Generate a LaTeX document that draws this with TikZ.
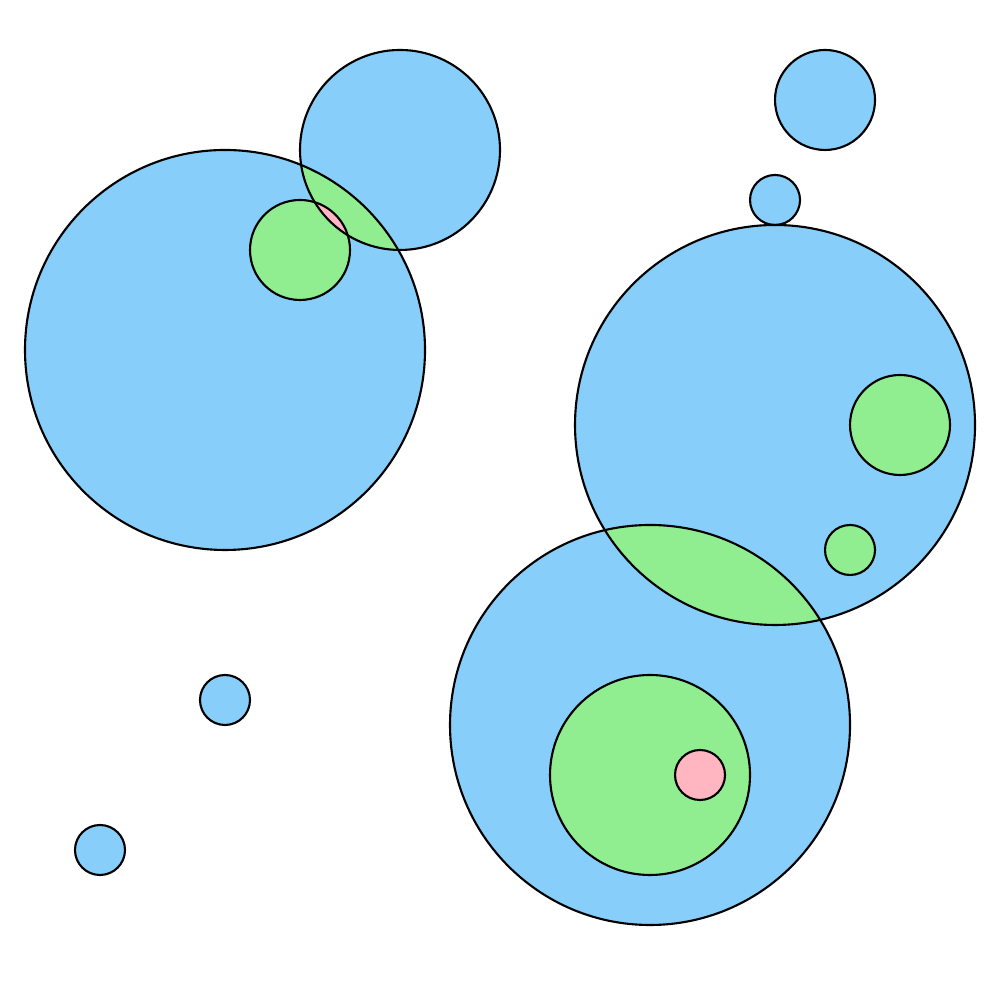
\documentclass[tikz,border=0pt]{standalone}
\usepackage{tikz}
\usetikzlibrary{calc}
\usepackage{xcolor}

\definecolor{skyfill}{HTML}{87CEFA}
\definecolor{greenfill}{HTML}{90EE90}
\definecolor{pinkfill}{HTML}{FFB6C1}

% one circle path: center, radius
\newcommand{\discA}[2]{(#1) circle (#2)}

\begin{document}
\begin{tikzpicture}[
  edge/.style={draw=black, line width=0.6pt},
]
  \useasboundingbox (0,0) rectangle (10,10);

  % centres
  \coordinate (bigleft)  at (2.25,6.5);
  \coordinate (topmid)   at (4,8.5);
  \coordinate (gleft)    at (3,7.5);
  \coordinate (topright) at (8.25,9);
  \coordinate (dotright) at (7.75,8);
  \coordinate (bigright) at (7.75,5.75);
  \coordinate (gright)   at (9,5.75);
  \coordinate (gsmall)   at (8.5,4.5);
  \coordinate (bigbot)   at (6.5,2.75);
  \coordinate (gbot)     at (6.5,2.25);
  \coordinate (pbot)     at (7,2.25);
  \coordinate (dotmid)   at (2.25,3);
  \coordinate (dotlow)   at (1,1.5);

  % depth 1
  \fill[skyfill] \discA{bigleft}{2} \discA{topmid}{1} \discA{topright}{0.5}
    \discA{dotright}{0.25} \discA{bigright}{2} \discA{bigbot}{2}
    \discA{dotmid}{0.25} \discA{dotlow}{0.25};

  % depth 2
  \begin{scope}
    \clip \discA{bigleft}{2};
    \fill[greenfill] \discA{topmid}{1};
  \end{scope}
  \fill[greenfill] \discA{gleft}{0.5};
  \fill[greenfill] \discA{gright}{0.5};
  \fill[greenfill] \discA{gsmall}{0.25};
  \begin{scope}
    \clip \discA{bigright}{2};
    \fill[greenfill] \discA{bigbot}{2};
  \end{scope}
  \fill[greenfill] \discA{gbot}{1};

  % depth 3
  \begin{scope}
    \clip \discA{topmid}{1};
    \fill[pinkfill] \discA{gleft}{0.5};
  \end{scope}
  \fill[pinkfill] \discA{pbot}{0.25};

  % outlines
  \foreach \c/\r in {bigleft/2, topmid/1, gleft/0.5, topright/0.5, dotright/0.25,
      bigright/2, gright/0.5, gsmall/0.25, bigbot/2, gbot/1, pbot/0.25,
      dotmid/0.25, dotlow/0.25}
    \draw[edge] (\c) circle (\r);
\end{tikzpicture}
\end{document}
